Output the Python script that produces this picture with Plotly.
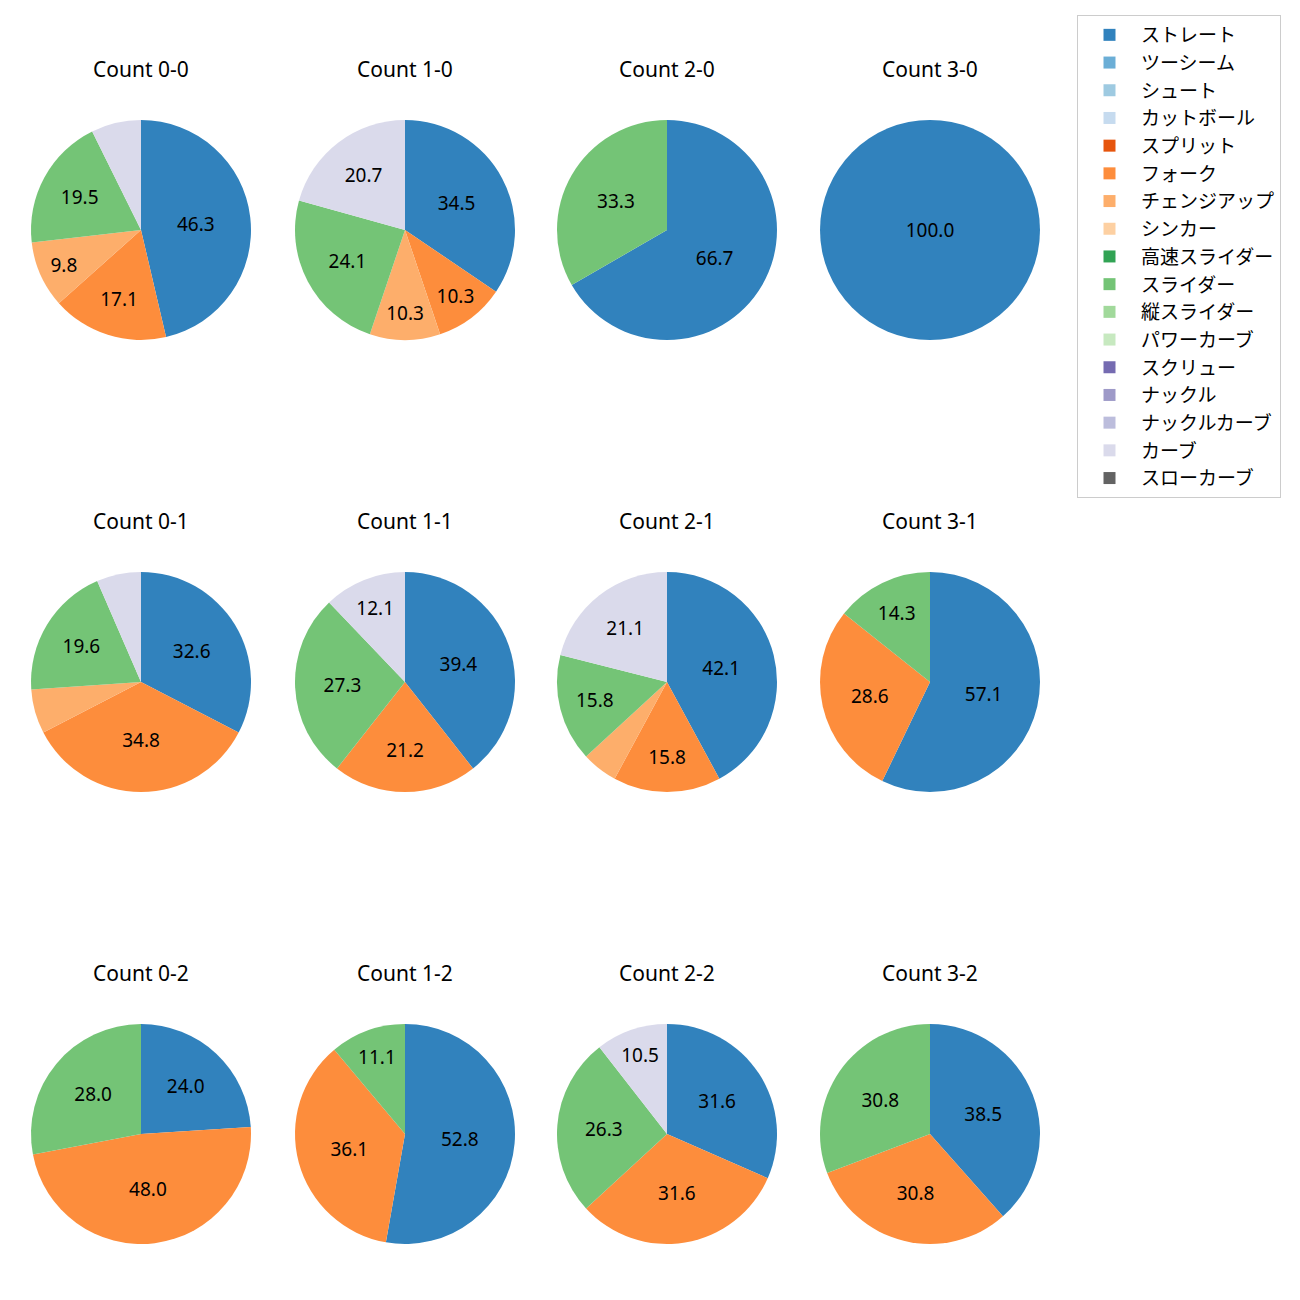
import plotly.graph_objects as go

pitch_types = ["ストレート", "ツーシーム", "シュート", "カットボール", "スプリット", "フォーク",
               "チェンジアップ", "シンカー", "高速スライダー", "スライダー", "縦スライダー",
               "パワーカーブ", "スクリュー", "ナックル", "ナックルカーブ", "カーブ", "スローカーブ"]
colors = ["#3182bd", "#6baed6", "#9ecae1", "#c6dbef", "#e6550d", "#fd8d3c", "#fdae6b", "#fdd0a2",
          "#31a354", "#74c476", "#a1d99b", "#c7e9c0", "#756bb1", "#9e9ac8", "#bcbddc", "#dadaeb",
          "#636363"]

counts = ["0-0", "1-0", "2-0", "3-0", "0-1", "1-1", "2-1", "3-1", "0-2", "1-2", "2-2", "3-2"]
# pitch counts per ball-strike count: {pitch type: number}
data = {
    "0-0": {"ストレート": 19, "フォーク": 7, "チェンジアップ": 4, "スライダー": 8, "カーブ": 3},
    "1-0": {"ストレート": 10, "フォーク": 3, "チェンジアップ": 3, "スライダー": 7, "カーブ": 6},
    "2-0": {"ストレート": 2, "スライダー": 1},
    "3-0": {"ストレート": 1},
    "0-1": {"ストレート": 15, "フォーク": 16, "チェンジアップ": 3, "スライダー": 9, "カーブ": 3},
    "1-1": {"ストレート": 13, "フォーク": 7, "スライダー": 9, "カーブ": 4},
    "2-1": {"ストレート": 8, "フォーク": 3, "チェンジアップ": 1, "スライダー": 3, "カーブ": 4},
    "3-1": {"ストレート": 4, "フォーク": 2, "スライダー": 1},
    "0-2": {"ストレート": 6, "フォーク": 12, "スライダー": 7},
    "1-2": {"ストレート": 19, "フォーク": 13, "スライダー": 4},
    "2-2": {"ストレート": 6, "フォーク": 6, "スライダー": 5, "カーブ": 2},
    "3-2": {"ストレート": 5, "フォーク": 4, "スライダー": 4},
}

W = H = 1300
OFF = 8  # page body margin
col_cx = [141 - OFF, 405 - OFF, 667 - OFF, 930 - OFF]
row_cy = [230 - OFF, 682 - OFF, 1134 - OFF]
R = 110
title_dy = 161
FONT = "Noto Sans, Noto Sans CJK JP"

fig = go.Figure()
for i, c in enumerate(counts):
    r, k = divmod(i, 4)
    cx, cy = col_cx[k], row_cy[r]
    vals = [data[c].get(p, 0) for p in pitch_types]
    tot = sum(vals)
    texts = [f"{v / tot * 100:.1f}" if v / tot * 100 >= 8 else "" for v in vals]
    fig.add_trace(go.Pie(
        labels=pitch_types, values=vals, text=texts, textinfo="text",
        texttemplate="%{text}", textposition="inside", insidetextorientation="horizontal",
        textfont=dict(size=19, color="black", family=FONT),
        marker=dict(colors=colors, line=dict(width=0)),
        sort=False, direction="clockwise", rotation=0,
        showlegend=(i == 0), hoverinfo="label+percent",
        domain=dict(x=[(cx - R) / W, (cx + R) / W], y=[1 - (cy + R) / H, 1 - (cy - R) / H]),
    ))
    fig.add_annotation(text=f"Count {c}", x=cx / W, y=1 - (cy - title_dy) / H,
                       xref="paper", yref="paper", showarrow=False,
                       xanchor="center", yanchor="middle",
                       font=dict(size=21, color="black", family=FONT))

fig.update_layout(
    width=W, height=H, margin=dict(l=0, r=0, t=0, b=0),
    paper_bgcolor="white", plot_bgcolor="white",
    font=dict(family=FONT, color="black"),
    legend=dict(x=(1077 - OFF) / W, y=1 - (15 - OFF) / H, xanchor="left", yanchor="top",
                bordercolor="#cccccc", borderwidth=1, bgcolor="white",
                font=dict(size=19, family="Noto Sans CJK JP"), traceorder="normal",
                itemwidth=53),
)
fig.write_html("out.html")
